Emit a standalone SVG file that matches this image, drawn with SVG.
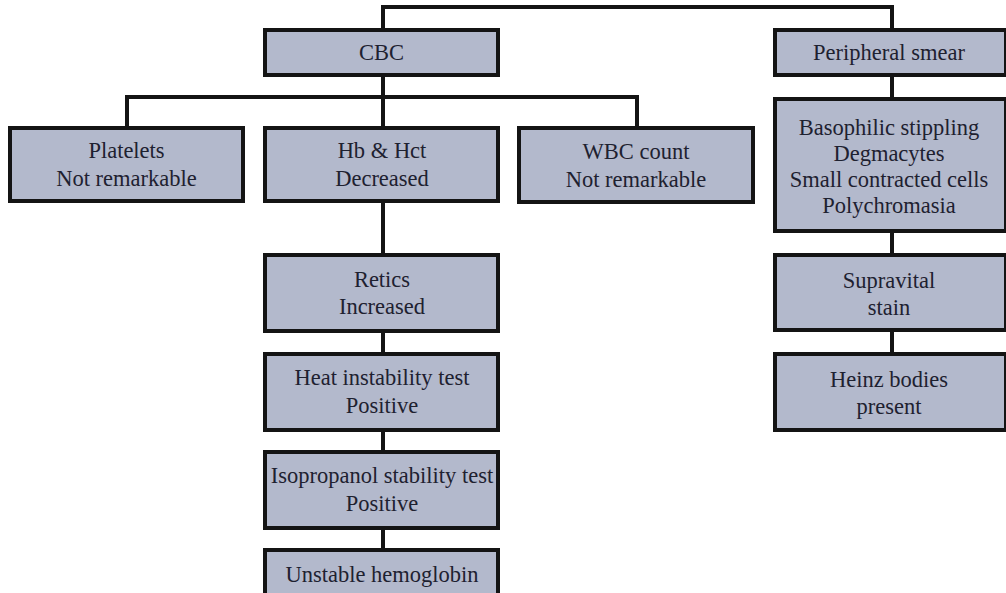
<svg xmlns="http://www.w3.org/2000/svg" width="1006" height="593" viewBox="0 0 1006 593">
<style>
.box{fill:#b3b9cc;stroke:#141414;stroke-width:4}
.conn{fill:none;stroke:#141414;stroke-width:4}
text{font-family:"Liberation Serif","Times New Roman",serif;font-size:22.5px;fill:#1e2130;text-anchor:middle}
</style>
<rect width="1006" height="593" fill="#ffffff"/>
<g id="connectors">
<path class="conn" d="M383 30 V7 H892 V30"/>
<path class="conn" d="M383 75 V548"/>
<path class="conn" d="M127 128 V97 H637 V128"/>
<path class="conn" d="M892 75 V354"/>
</g>
<g id="cbc"><rect class="box" x="265" y="30" width="233" height="45"/><text x="381.5" y="60">CBC</text></g>
<g id="peripheral"><rect class="box" x="775" y="30" width="231" height="45"/><text x="889" y="60">Peripheral smear</text></g>
<g id="platelets"><rect class="box" x="10" y="128" width="233" height="73"/><text x="126.5" y="158">Platelets</text><text x="126.5" y="186">Not remarkable</text></g>
<g id="hb"><rect class="box" x="265" y="128" width="233" height="73"/><text x="382" y="158">Hb &amp; Hct</text><text x="382" y="186">Decreased</text></g>
<g id="wbc"><rect class="box" x="519" y="128" width="234" height="74"/><text x="636" y="159">WBC count</text><text x="636" y="187">Not remarkable</text></g>
<g id="basophilic"><rect class="box" x="775" y="99" width="231" height="132"/><text x="889" y="135">Basophilic stippling</text><text x="889" y="161">Degmacytes</text><text x="889" y="187">Small contracted cells</text><text x="889" y="213">Polychromasia</text></g>
<g id="retics"><rect class="box" x="265" y="255" width="233" height="76"/><text x="382" y="287">Retics</text><text x="382" y="314">Increased</text></g>
<g id="heat"><rect class="box" x="265" y="354" width="233" height="76"/><text x="382" y="385">Heat instability test</text><text x="382" y="413">Positive</text></g>
<g id="isopropanol"><rect class="box" x="265" y="452" width="233" height="76"/><text x="382" y="483">Isopropanol stability test</text><text x="382" y="511">Positive</text></g>
<g id="unstable"><rect class="box" x="265" y="550" width="233" height="60"/><text x="382" y="582">Unstable hemoglobin</text></g>
<g id="supravital"><rect class="box" x="775" y="255" width="231" height="75"/><text x="889" y="288">Supravital</text><text x="889" y="315">stain</text></g>
<g id="heinz"><rect class="box" x="775" y="354" width="231" height="76"/><text x="889" y="387">Heinz bodies</text><text x="889" y="414">present</text></g>
</svg>
